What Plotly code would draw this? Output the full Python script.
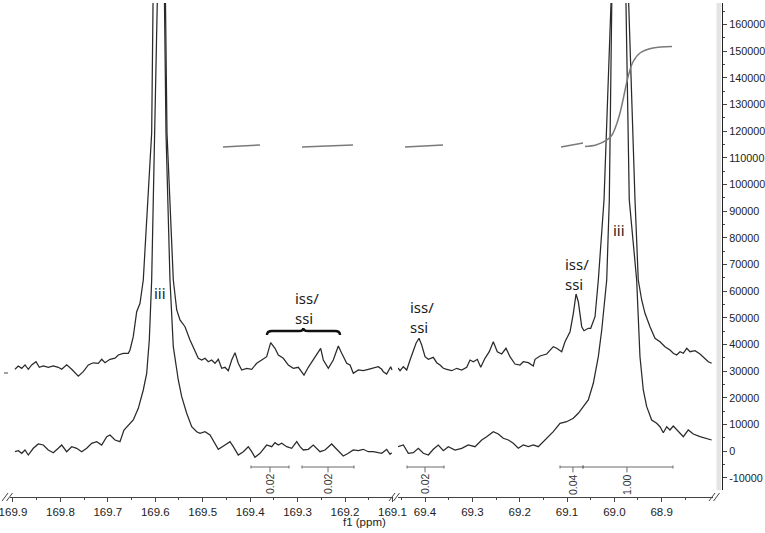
import plotly.graph_objects as go

# ---------------- data ----------------
# spectra: (chemical shift ppm, intensity)
upper_left = [(169.8958, 30750), (169.8888, 32000), (169.8816, 31100), (169.8747, 32400), (169.8677, 30750),
              (169.8606, 32400), (169.8515, 33600), (169.8445, 31500), (169.8361, 32000), (169.8256, 31500),
              (169.8150, 32000), (169.8045, 31500), (169.7973, 30750), (169.7868, 32400), (169.7762, 30750),
              (169.7623, 28200), (169.7518, 29850), (169.7412, 32400), (169.7307, 33200), (169.7201, 33000),
              (169.7130, 34500), (169.7060, 33200), (169.6955, 34500), (169.6849, 34900), (169.6780, 36100),
              (169.6674, 36750), (169.6569, 36750), (169.6533, 38000), (169.6464, 43000), (169.6392, 52350),
              (169.6322, 55500), (169.6286, 60500), (169.6253, 64240), (169.6076, 119360), (169.6027, 168110),
              (169.5911, 400000), (169.5785, 168110), (169.5753, 119360), (169.5620, 64240), (169.5548, 53000),
              (169.5479, 49240), (169.5373, 46730), (169.5268, 41740), (169.5163, 37990), (169.5093, 34880),
              (169.5021, 34240), (169.4952, 34880), (169.4882, 33600), (169.4811, 34240), (169.4741, 33000),
              (169.4671, 34500), (169.4600, 31120), (169.4530, 31500), (169.4461, 30220), (169.4389, 34240),
              (169.4319, 36980), (169.4250, 33000), (169.4178, 30490), (169.4073, 31120), (169.3967, 30750),
              (169.3862, 33000), (169.3756, 34240), (169.3651, 35480), (169.3567, 40730), (169.3476, 38620),
              (169.3406, 36110), (169.3301, 34880), (169.3195, 32360), (169.3090, 31120), (169.2984, 31500),
              (169.2864, 28610), (169.2774, 31500), (169.2668, 34240), (169.2597, 36110), (169.2513, 38620),
              (169.2457, 34240), (169.2352, 31120), (169.2247, 34240), (169.2141, 39490), (169.2069, 36750),
              (169.1964, 33000), (169.1894, 32360), (169.1825, 29250), (169.1719, 30490), (169.1614, 30220),
              (169.1509, 30750), (169.1403, 31120), (169.1298, 31720), (169.1226, 30750), (169.1193, 29850),
              (169.1121, 28990), (169.1037, 31720), (169.1009, 30490)]

lower_left = [(169.8958, -150), (169.8888, 225), (169.8816, -750), (169.8747, 490), (169.8677, -1390),
              (169.8572, 1125), (169.8466, 2740), (169.8361, 2360), (169.8256, 490), (169.8150, -525),
              (169.8045, 1125), (169.7973, 2360), (169.7868, -150), (169.7762, 1725), (169.7657, 1125),
              (169.7551, -150), (169.7446, 1125), (169.7341, 3000), (169.7235, 3600), (169.7130, 2360),
              (169.7024, 5475), (169.6955, 6110), (169.6849, 4240), (169.6744, 3600), (169.6660, 7990),
              (169.6569, 9860), (169.6464, 11740), (169.6358, 16125), (169.6253, 22990), (169.6181, 29250),
              (169.6126, 41740), (169.6076, 64240), (169.6006, 119360), (169.5958, 168110), (169.5879, 400000),
              (169.5806, 168110), (169.5774, 119360), (169.5690, 64240), (169.5620, 39220), (169.5515, 26740),
              (169.5443, 20475), (169.5338, 14250), (169.5232, 9225), (169.5127, 7350), (169.5057, 6750),
              (169.4952, 7350), (169.4846, 6110), (169.4671, 750), (169.4530, 2360), (169.4425, 3600),
              (169.4355, 1725), (169.4250, -1390), (169.4144, -150), (169.4039, 1725), (169.3967, -150),
              (169.3898, -2250), (169.3792, -750), (169.3651, 2360), (169.3545, 1725), (169.3476, 3225),
              (169.3406, 2360), (169.3335, 3000), (169.3229, 1725), (169.3124, 1125), (169.3018, 3600),
              (169.2949, 1725), (169.2879, 490), (169.2774, 750), (169.2668, 2360), (169.2597, 1125),
              (169.2527, -150), (169.2422, 490), (169.2281, 2740), (169.2175, 750), (169.2036, -1760),
              (169.1931, -750), (169.1825, 490), (169.1720, 225), (169.1614, 750), (169.1509, -150),
              (169.1403, -150), (169.1298, -525), (169.1226, -750), (169.1157, 225), (169.1121, 750),
              (169.1051, -1125), (169.1016, -525)]

upper_right = [(69.4571, 31240), (69.4528, 30220), (69.4458, 31720), (69.4387, 30490), (69.4317, 34240),
               (69.4247, 37350), (69.4190, 40500), (69.4127, 42375), (69.4070, 39860), (69.4000, 35475),
               (69.3930, 34500), (69.3825, 35250), (69.3753, 33225), (69.3683, 32360), (69.3613, 31125),
               (69.3541, 30750), (69.3436, 30225), (69.3330, 31125), (69.3225, 30490), (69.3119, 31500),
               (69.3049, 34240), (69.2979, 33600), (69.2895, 34500), (69.2823, 31500), (69.2733, 34875),
               (69.2642, 37350), (69.2557, 41100), (69.2473, 37350), (69.2380, 36490), (69.2289, 38625),
               (69.2205, 35475), (69.2099, 32740), (69.1993, 32360), (69.1923, 33600), (69.1818, 33225),
               (69.1712, 31990), (69.1676, 34500), (69.1570, 35740), (69.1429, 36490), (69.1290, 39225),
               (69.1218, 38625), (69.1112, 37350), (69.1042, 41100), (69.0936, 44850), (69.0866, 51750),
               (69.0809, 58990), (69.0761, 56100), (69.0689, 46725), (69.0641, 45225), (69.0550, 46125),
               (69.0499, 46125), (69.0408, 50475), (69.0338, 64240), (69.0218, 94240), (69.0070, 168110),
               (68.9891, 400000), (68.9697, 168110), (68.9563, 94240), (68.9494, 64240), (68.9422, 56740),
               (68.9352, 51750), (68.9246, 46725), (68.9141, 42375), (68.9035, 41100), (68.8930, 39225),
               (68.8824, 37990), (68.8754, 36750), (68.8682, 36110), (68.8612, 37350), (68.8542, 36750),
               (68.8470, 38625), (68.8401, 37350), (68.8295, 37725), (68.8190, 36490), (68.8120, 35475),
               (68.8014, 33600), (68.7943, 33000)]

lower_right = [(69.4571, 1725), (69.4458, 2360), (69.4353, -750), (69.4247, -525), (69.4142, 1125),
               (69.4036, -750), (69.3930, -1390), (69.3825, 750), (69.3719, 2360), (69.3613, 225),
               (69.3508, 1725), (69.3366, 490), (69.3225, 1125), (69.3085, 2360), (69.2944, 1725),
               (69.2802, 4240), (69.2697, 5475), (69.2557, 7350), (69.2452, 6490), (69.2346, 4875),
               (69.2240, 4240), (69.2135, 3000), (69.2029, 1125), (69.1923, 2360), (69.1818, 1725),
               (69.1712, 2360), (69.1607, 1725), (69.1501, 3600), (69.1395, 5475), (69.1290, 7350),
               (69.1148, 10500), (69.1007, 11100), (69.0867, 12375), (69.0761, 14250), (69.0656, 16725),
               (69.0550, 19240), (69.0444, 25500), (69.0338, 35475), (69.0266, 45490), (69.0196, 57975),
               (69.0161, 64240), (69.0106, 94240), (69.0034, 168110), (68.9891, 400000), (68.9754, 168110),
               (68.9684, 94240), (68.9528, 64240), (68.9458, 35475), (68.9388, 22990), (68.9316, 16725),
               (68.9211, 11740), (68.9105, 10500), (68.9035, 9225), (68.8965, 6975), (68.8893, 9225),
               (68.8824, 7990), (68.8754, 9490), (68.8648, 7350), (68.8542, 5475), (68.8437, 7990),
               (68.8331, 6490), (68.8190, 5475), (68.8048, 4875), (68.7943, 4240)]

# integral curves
integral_left = [
    [(169.4572, 114110), (169.4193, 114490), (169.3792, 114860)],
    [(169.2907, 114110), (169.2380, 114490), (169.1832, 114860)],
]
integral_right = [
    [(69.4423, 114110), (69.4022, 114490), (69.3620, 114860)],
    [(69.1127, 114110), (69.0662, 115610)],
    [(69.0620, 114300), (69.0387, 114860), (69.0155, 116740), (69.0049, 118610), (68.9943, 123110),
     (68.9880, 126860), (68.9817, 131740), (68.9711, 140360), (68.9606, 145990), (68.9458, 149360),
     (68.9183, 151240), (68.8782, 151800)],
]

# integral brackets: (from ppm, to ppm, centre ppm, label, axis)
int_from   = [169.3982, 169.2907, 69.4380, 69.1148, 69.0662]
int_to     = [169.3181, 169.1810, 69.3599, 69.0662, 68.8761]
int_centre = [169.3581, 169.2358, 69.4000, 69.0874, 68.9733]
int_labels = ["0.02", "0.02", "0.02", "0.04", "1.00"]
int_axis   = ["x", "x", "x2", "x2", "x2"]

# peak labels: (text, ppm, intensity, axis)
peak_labels = [("iii", 169.5901, 59360, "x"), ("iii", 68.9901, 82990, "x2"),
               ("iss/<br>ssi", 169.3096, 53740, "x"), ("iss/<br>ssi", 69.4359, 50550, "x2"),
               ("iss/<br>ssi", 69.1084, 66490, "x2")]

# curly brace over the left iss/ssi group (ppm positions)
brace_ppm = [169.3645, 169.3539, 169.2970, 169.2879, 169.2780, 169.2211, 169.2105]
brace_int = [43610, 45110, 46240]

x1_ticks = [169.9, 169.8, 169.7, 169.6, 169.5, 169.4, 169.3, 169.2, 169.1]
x1_minor = [169.85, 169.75, 169.65, 169.55, 169.45, 169.35, 169.25, 169.15]
x2_ticks = [69.4, 69.3, 69.2, 69.1, 69.0, 68.9]
x2_minor = [69.45, 69.35, 69.25, 69.15, 69.05, 68.95, 68.85]
y_ticks = list(range(-10000, 160001, 10000))
y_ticktext = [str(v) for v in y_ticks]
y_minor = list(range(-15000, 165001, 10000))

# ---------------- figure ----------------
W, H = 765, 533
ML, MR, MT, MB = 0, 43, 3, 36
PW, PH = W - ML - MR, H - MT - MB


def pxx(x):
    return x / PW


def pxy(y):
    return (H - MB - y) / PH


TRACE = "#2a2a2a"
fig = go.Figure()
for pairs, ax in [(upper_left, "x"), (lower_left, "x"), (upper_right, "x2"), (lower_right, "x2")]:
    fig.add_trace(go.Scatter(x=[p[0] for p in pairs], y=[p[1] for p in pairs], mode="lines",
                             line=dict(color=TRACE, width=1.25), xaxis=ax, yaxis="y",
                             hoverinfo="skip", showlegend=False))
for segs, ax in [(integral_left, "x"), (integral_right, "x2")]:
    for seg in segs:
        fig.add_trace(go.Scatter(x=[p[0] for p in seg], y=[p[1] for p in seg], mode="lines",
                                 line=dict(color="#7a7a7a", width=1.5, shape="spline"), xaxis=ax, yaxis="y",
                                 hoverinfo="skip", showlegend=False))

BR_Y, BR_END, BR_TICK, LAB_Y = -5890, 560, -7900, -12300
for a, b, c, lab, ax in zip(int_from, int_to, int_centre, int_labels, int_axis):
    xs = [a, b, None, a, a, None, b, b, None, c, c]
    ys = [BR_Y, BR_Y, None, BR_Y - BR_END, BR_Y + BR_END, None, BR_Y - BR_END, BR_Y + BR_END, None, BR_Y, BR_TICK]
    fig.add_trace(go.Scatter(x=xs, y=ys, mode="lines", line=dict(color="#6a6a6a", width=1),
                             xaxis=ax, yaxis="y", hoverinfo="skip", showlegend=False))
    fig.add_annotation(x=c, y=LAB_Y, xref=ax, yref="y", text=lab, showarrow=False, textangle=-90,
                       font=dict(family="Liberation Sans", size=10.5, color="#333"))

for text, xv, yv, ax in peak_labels:
    if "<br>" in text:
        fig.add_annotation(x=xv, y=yv, xref=ax, yref="y", text=text, showarrow=False, align="left",
                           xanchor="left", yanchor="middle",
                           font=dict(family="Noto Sans", size=15, color="#1a1a1a"))
    else:
        fig.add_annotation(x=xv, y=yv, xref=ax, yref="y", text=text, showarrow=False,
                           font=dict(family="Noto Sans", size=15, color="#1a1a1a"))

b = brace_ppm
ye, yb, yt = brace_int
brace_path = (f"M {b[0]},{ye} Q {b[0]},{yb} {b[1]},{yb} L {b[2]},{yb} Q {b[3]},{yb} {b[3]},{yt} "
              f"Q {b[3]},{yb} {b[4]},{yb} L {b[5]},{yb} Q {b[6]},{yb} {b[6]},{ye}")
shapes = [dict(type="path", xref="x", yref="y", path=brace_path, line=dict(color="#111", width=2.4))]

# light band beside the right axis
shapes.append(dict(type="rect", xref="paper", yref="paper", x0=pxx(716.5), x1=pxx(721), y0=pxy(490),
                   y1=pxy(3), fillcolor="#e4e4e4", line=dict(width=0), layer="below"))
# axis break marks
for x0 in (2, 389, 709):
    for dx in (0, 4.5):
        shapes.append(dict(type="line", xref="paper", yref="paper", x0=pxx(x0 + dx), y0=pxy(501),
                           x1=pxx(x0 + dx + 6), y1=pxy(493), line=dict(color="#444", width=1)))
shapes.append(dict(type="line", xref="paper", yref="paper", x0=pxx(4), y0=pxy(373), x1=pxx(8), y1=pxy(373),
                   line=dict(color="#444", width=1)))

TF = dict(family="Liberation Sans", size=11.5, color="#222")
TFY = dict(family="Liberation Sans", size=10.8, color="#222")
common_x = dict(anchor="free", position=0, showline=True, linecolor="#444", linewidth=1, ticks="outside",
                ticklen=4, tickcolor="#444", showgrid=False, zeroline=False, tickfont=TF, autorange=False,
                ticklabelstandoff=0, ticklabeloverflow="allow", automargin=False)

fig.update_layout(
    width=W, height=H, margin=dict(l=ML, r=MR, t=MT, b=MB, autoexpand=False),
    paper_bgcolor="white", plot_bgcolor="white", showlegend=False,
    xaxis=dict(domain=[pxx(10), pxx(393)], range=[169.9063, 169.0988], tickvals=x1_ticks,
               ticktext=[f"{v:.1f}" for v in x1_ticks],
               minor=dict(tickvals=x1_minor, ticks="outside", ticklen=2, tickcolor="#444"), **common_x),
    xaxis2=dict(domain=[pxx(398), pxx(713)], range=[69.4571, 68.7915], tickvals=x2_ticks,
                ticktext=[f"{v:.1f}" for v in x2_ticks],
                minor=dict(tickvals=x2_minor, ticks="outside", ticklen=2, tickcolor="#444"), **common_x),
    yaxis=dict(domain=[pxy(490), 1], range=[-14512, 168112], autorange=False, anchor="free", position=1,
               side="right", showline=True, linecolor="#222", linewidth=1, ticks="outside", ticklen=4,
               tickcolor="#444", tickvals=y_ticks, ticktext=y_ticktext, tickfont=TFY, showgrid=False,
               automargin=False, zeroline=False, ticklabelstandoff=0, ticklabeloverflow="allow",
               minor=dict(tickvals=y_minor, ticks="outside", ticklen=2, tickcolor="#444")),
    shapes=shapes,
)
fig.add_annotation(x=pxx(365), y=pxy(522), xref="paper", yref="paper", text="f1 (ppm)", showarrow=False,
                   font=TF, yanchor="middle")

fig.write_html("out.html", config={"displayModeBar": False},
               post_script="document.body.style.margin='0px';")
